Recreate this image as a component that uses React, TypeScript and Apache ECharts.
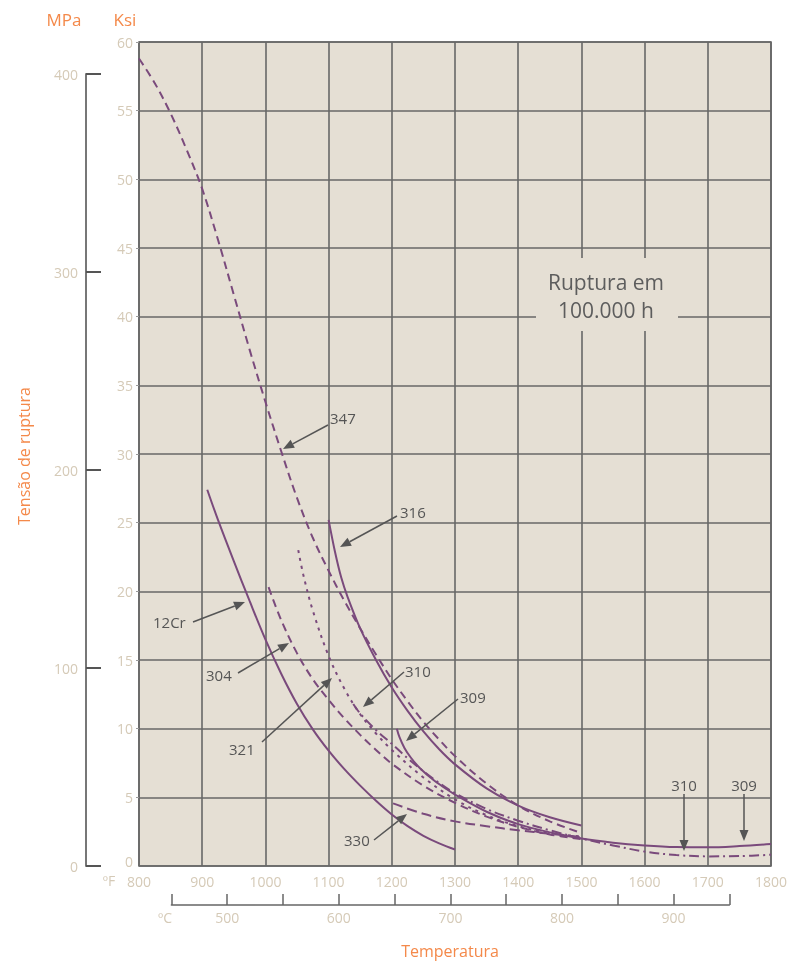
import React, { useEffect, useRef } from "react";
import * as echarts from "echarts";

// Temperature (°F) / rupture stress (ksi) pairs
const s347: [number, number][] = [
  [800, 58.8], [825, 57.0], [850, 54.8], [875, 52.2], [900, 49.3], [925, 45.6], [950, 41.6],
  [975, 37.6], [1000, 33.8], [1025, 30.2], [1050, 26.8], [1075, 23.9], [1100, 21.5], [1125, 19.3],
  [1150, 17.3], [1175, 15.4], [1200, 13.6], [1225, 12.0], [1250, 10.5], [1275, 9.2], [1300, 8.0],
  [1350, 6.0], [1400, 4.4], [1450, 3.25], [1500, 2.4],
];
const s316: [number, number][] = [
  [1100, 25.2], [1110, 22.9], [1120, 21.0], [1130, 19.6], [1150, 17.3], [1175, 15.0], [1200, 13.0],
  [1225, 11.3], [1250, 9.8], [1275, 8.5], [1300, 7.4], [1350, 5.65], [1400, 4.4], [1450, 3.55], [1500, 2.95],
];
const s12Cr: [number, number][] = [
  [908, 27.4], [925, 25.2], [950, 22.2], [975, 19.3], [1000, 16.5], [1025, 14.0], [1050, 11.8],
  [1075, 9.95], [1100, 8.4], [1125, 7.05], [1150, 5.85], [1175, 4.75], [1200, 3.75], [1225, 2.9],
  [1250, 2.2], [1275, 1.65], [1300, 1.2],
];
const s304: [number, number][] = [
  [1005, 20.3], [1025, 17.9], [1050, 15.5], [1075, 13.6], [1100, 12.1], [1125, 10.75], [1150, 9.55],
  [1175, 8.45], [1200, 7.45], [1250, 5.85], [1300, 4.6], [1350, 3.6], [1400, 2.85], [1450, 2.3], [1500, 1.95],
];
const s321: [number, number][] = [
  [1052, 23], [1060, 21.2], [1075, 18.6], [1100, 15.3], [1125, 12.9], [1150, 11.05], [1175, 9.65],
  [1200, 8.45], [1250, 6.45], [1300, 4.85], [1350, 3.7], [1400, 2.9], [1450, 2.4], [1500, 2.15],
];
const s310: [number, number][] = [
  [1139, 11.8], [1150, 11.1], [1175, 9.9], [1200, 8.9], [1225, 7.85], [1250, 6.9], [1275, 6.05],
  [1300, 5.3], [1350, 4.15], [1400, 3.3], [1450, 2.6], [1500, 2.0], [1550, 1.5], [1600, 1.05],
  [1650, 0.8], [1700, 0.7], [1750, 0.72], [1800, 0.82],
];
const s309: [number, number][] = [
  [1208, 10], [1212, 9.4], [1220, 8.6], [1230, 7.9], [1245, 7.1], [1265, 6.3], [1285, 5.65],
  [1300, 5.2], [1350, 3.95], [1400, 3.05], [1450, 2.45], [1500, 2.0], [1550, 1.7], [1600, 1.5],
  [1650, 1.38], [1700, 1.36], [1750, 1.45], [1800, 1.6],
];
const s330: [number, number][] = [
  [1202, 4.56], [1250, 3.8], [1300, 3.25], [1350, 2.9], [1400, 2.6], [1450, 2.35], [1500, 2.1],
];

const fTicks = { min: 800, max: 1800, step: 100 };
const ksiTicks = { min: 0, max: 60, step: 5 };
const mpaTicks = { min: 0, max: 400, step: 100 };
const cTicks = { min: 450, max: 950, step: 50 };

const PURPLE = "#7a4a7c";
const LABEL = "#d5cab7";
const ORANGE = "#f4894a";
const DARK = "#555555";
const FONT = "'Open Sans', 'Noto Sans', sans-serif";

function arrow(x1: number, y1: number, x2: number, y2: number): any[] {
  const dx = x2 - x1, dy = y2 - y1;
  const len = Math.sqrt(dx * dx + dy * dy);
  const ux = dx / len, uy = dy / len;
  const hl = 11, hw = 4.5;
  const bx = x2 - ux * hl, by = y2 - uy * hl;
  return [
    { type: "line", z: 100, shape: { x1, y1, x2: bx, y2: by }, style: { stroke: DARK, lineWidth: 1.5 } },
    {
      type: "polygon", z: 100,
      shape: { points: [[x2, y2], [bx - uy * hw, by + ux * hw], [bx + uy * hw, by - ux * hw]] },
      style: { fill: DARK },
    },
  ];
}

function label(text: string, x: number, y: number, align = "center", size = 15, color = DARK): any {
  return {
    type: "text", z: 100, x, y,
    style: { text, fill: color, font: `${size}px ${FONT}`, align, verticalAlign: "middle" },
  };
}

function line(name: string, data: [number, number][], type: any) {
  return {
    name, type: "line", data, smooth: 0.35, symbol: "none",
    xAxisIndex: 0, yAxisIndex: 0,
    lineStyle: { color: PURPLE, width: 2, type },
    z: 5,
  };
}

export default function App() {
  const ref = useRef<HTMLDivElement>(null);
  useEffect(() => {
    if (!ref.current) return;
    const chart = echarts.init(ref.current, undefined, { renderer: "svg" });
    const axisLabel = { color: LABEL, fontSize: 14, fontFamily: FONT };
    const graphic: any[] = [
      label("MPa", 64, 19, "center", 17, ORANGE),
      label("Ksi", 125, 19, "center", 17, ORANGE),
      {
        type: "text", z: 100, x: 24, y: 456, rotation: Math.PI / 2,
        style: { text: "Tensão de ruptura", fill: ORANGE, font: `16px ${FONT}`, align: "center", verticalAlign: "middle" },
      },
      label("Temperatura", 450, 951, "center", 16, ORANGE),
      label("ºF", 109, 880, "center", 14, LABEL),
      label("ºC", 165, 917, "center", 14, LABEL),
      label("0", 133, 861, "right", 14, LABEL),
      { type: "rect", z: 90, shape: { x: 536, y: 258, width: 142, height: 73 }, style: { fill: "#e5dfd4" } },
      label("Ruptura em", 606, 282, "center", 21, "#5d5d5d"),
      label("100.000 h", 606, 310, "center", 21, "#5d5d5d"),
      label("347", 330, 418, "left"), ...arrow(328, 425, 283, 449),
      label("316", 400, 512, "left"), ...arrow(397, 516, 340, 547),
      label("12Cr", 153, 622, "left"), ...arrow(193, 622, 245, 602),
      label("304", 206, 675, "left"), ...arrow(238, 673, 289, 643),
      label("321", 229, 749, "left"), ...arrow(262, 742, 332, 678),
      label("310", 405, 671, "left"), ...arrow(404, 672, 363, 707),
      label("309", 460, 697, "left"), ...arrow(458, 699, 406, 741),
      label("330", 344, 840, "left"), ...arrow(374, 840, 407, 814),
      label("310", 684, 785, "center"), ...arrow(684, 794, 684, 851),
      label("309", 744, 785, "center"), ...arrow(744, 794, 744, 841),
    ];
    chart.setOption({
      animation: false,
      textStyle: { fontFamily: FONT },
      grid: [
        { left: 139, top: 42, width: 632, height: 824, show: true, backgroundColor: "#e5dfd4", borderColor: "#666666", borderWidth: 1.6 },
        { left: 86, top: 74, width: 1, height: 792 },
        { left: 171.4, top: 894, width: 558, height: 11 },
      ],
      xAxis: [
        {
          gridIndex: 0, type: "value", min: fTicks.min, max: fTicks.max, interval: fTicks.step,
          axisLine: { show: false }, axisTick: { show: false },
          splitLine: { show: true, lineStyle: { color: "#676767", width: 1.6 } },
          axisLabel: { ...axisLabel, margin: 8, formatter: (v: number) => String(v) },
        },
        { gridIndex: 1, type: "value", show: false },
        {
          gridIndex: 2, type: "value", min: cTicks.min, max: cTicks.max, interval: cTicks.step, position: "bottom",
          axisLine: { show: true, lineStyle: { color: "#666666", width: 1.5 } },
          axisTick: { show: true, inside: true, length: 11, lineStyle: { color: "#666666", width: 1.5 } },
          splitLine: { show: false },
          axisLabel: { ...axisLabel, margin: 5, formatter: (v: number) => (v % 100 === 0 ? String(v) : "") },
        },
      ],
      yAxis: [
        {
          gridIndex: 0, type: "value", min: ksiTicks.min, max: ksiTicks.max, interval: ksiTicks.step,
          axisLine: { show: false },
          axisTick: { show: true, length: 3, lineStyle: { color: "#999999" } },
          splitLine: { show: true, lineStyle: { color: "#676767", width: 1.6 } },
          axisLabel: { ...axisLabel, margin: 6, showMinLabel: false },
        },
        {
          gridIndex: 1, type: "value", min: mpaTicks.min, max: mpaTicks.max, interval: mpaTicks.step, position: "left",
          axisLine: { show: true, lineStyle: { color: "#777777", width: 2 } },
          axisTick: { show: true, inside: true, length: 15, lineStyle: { color: "#555555", width: 2 } },
          splitLine: { show: false },
          axisLabel: { ...axisLabel, margin: 8 },
        },
        { gridIndex: 2, type: "value", show: false },
      ],
      series: [
        line("347", s347, [8, 5]),
        line("316", s316, "solid"),
        line("12Cr", s12Cr, "solid"),
        line("304", s304, [8, 5]),
        line("321", s321, [3, 5]),
        line("310", s310, [10, 4, 2, 4]),
        line("309", s309, "solid"),
        line("330", s330, [10, 5]),
      ],
      graphic,
    });
    return () => chart.dispose();
  }, []);
  return <div ref={ref} style={{ position: "fixed", left: 0, top: 0, width: 792, height: 963 }} />;
}
